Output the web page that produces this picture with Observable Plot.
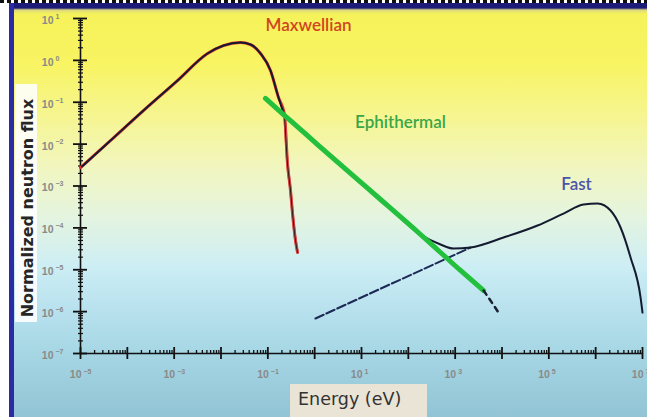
<!DOCTYPE html>
<html>
<head>
<meta charset="utf-8">
<script src="https://cdn.jsdelivr.net/npm/d3@7"></script>
<script src="https://cdn.jsdelivr.net/npm/@observablehq/plot@0.6"></script>
<style>
  body { margin: 0; background: #fff; }
  #wrap { position: relative; width: 647px; height: 417px; overflow: hidden; background: #fff; }
  #bg { position: absolute; left: 14px; top: 3px; right: 0; bottom: 0;
        background: linear-gradient(to bottom, #1c1c78 0px, #1c1c78 5px, #dcd87e 7px, #f6f25a 11px, #f8f462 60px, #f6f58e 110px, #f1f6c0 165px, #e4f4e0 215px, #cdeef4 262px, #bbe3ef 300px, #a6d6e4 350px, #90c3d4 417px); }
  #dash { position: absolute; left: 0; top: 0; width: 647px; height: 3px;
          background: repeating-linear-gradient(to right, #111 0 4px, #fff 4px 7px); }
  #lstrip { position: absolute; left: 9px; top: 3px; width: 5px; bottom: 0; background: #2b2ba4; }
  #ybox { position: absolute; left: 15px; top: 84px; width: 22px; height: 238px; background: rgba(255,255,255,0.88); }
  #ylab { position: absolute; left: 27px; top: 208px; transform: translate(-50%, -50%) rotate(-90deg);
          white-space: nowrap; font: bold 16px "DejaVu Sans", sans-serif; color: #262626; }
  #xbox { position: absolute; left: 290px; top: 384px; width: 137px; height: 40px; background: #e9e4d6; }
  #xlab { position: absolute; left: 298px; top: 389px; white-space: nowrap;
          font: 17.5px "DejaVu Sans", sans-serif; color: #333; }
  svg.chart { position: absolute; left: 0; top: 0; }
</style>
</head>
<body>
<div id="wrap">
  <div id="bg"></div>
  <div id="dash"></div>
  <div id="lstrip"></div>
  <div id="ybox"></div>
  <div id="xbox"></div>
</div>
<script>
// ---- data (energy in eV, normalized flux) ----
const thermalE    = [1.0e-5, 4.38e-5, 2.21e-4, 1.18e-3, 5.15e-3, 1.13e-2, 2.61e-2, 4.27e-2, 6.98e-2, 0.114, 0.169, 0.227, 0.263, 0.305, 0.337, 0.390, 0.431];
const thermalFlux = [2.75e-3, 1.22e-2, 6.35e-2, 0.33, 1.46, 2.26, 2.67, 2.39, 1.46, 0.573, 0.130, 0.0509, 3.44e-3, 7.8e-4, 2.2e-4, 5.0e-5, 2.58e-5];

const totalE    = [1.08e-5, 4.38e-5, 2.21e-4, 1.18e-3, 5.15e-3, 1.13e-2, 2.61e-2, 4.27e-2, 6.98e-2, 0.114, 0.169, 0.227, 0.45, 1.15, 5.83, 25.5, 182, 487, 923, 2130, 1.08e4, 5.74e4, 2.06e5, 5.51e5, 1.10e6, 2.08e6, 3.40e6, 5.56e6, 9.10e6, 1.0e7];
const totalFlux = [2.92e-3, 1.22e-2, 6.35e-2, 0.33, 1.46, 2.26, 2.67, 2.39, 1.46, 0.573, 0.130, 0.0509, 0.0249, 9.79e-3, 1.99e-3, 4.76e-4, 6.95e-5, 4.01e-5, 3.21e-5, 3.40e-5, 5.89e-5, 1.14e-4, 2.20e-4, 3.61e-4, 3.82e-4, 2.60e-4, 1.02e-4, 1.96e-5, 2.17e-6, 9.5e-7];

const epiE    = [0.0891, 0.216, 0.45, 1.15, 5.83, 25.5, 182, 487, 1300, 4040];
const epiFlux = [0.123, 0.0509, 0.0249, 9.79e-3, 1.99e-3, 4.76e-4, 6.95e-5, 2.58e-5, 9.6e-6, 3.19e-6];

const epiTailE    = [4040, 5150, 8430];
const epiTailFlux = [3.19e-6, 2.17e-6, 9.5e-7];

const fastAsymE    = [1.04, 2130];
const fastAsymFlux = [6.85e-7, 3.40e-5];

const labelNames = ["Maxwellian", "Ephithermal", "Fast"];
const labelE     = [0.74, 68, 3.9e5];
const labelFlux  = [6.8, 0.0328, 1.09e-3];

const xExponents      = [-5, -4, -3, -2, -1, 0, 1, 2, 3, 4, 5, 6, 7];
const xLabelExponents = [-5, -3, -1, 1, 3, 5, 7];
const yExponents      = [-7, -6, -5, -4, -3, -2, -1, 0, 1];

// ---- build tables ----
const pts = (E, F) => E.map((e, i) => ({E: e, F: F[i]}));
const thermal = pts(thermalE, thermalFlux);
const total = pts(totalE, totalFlux);
const epi = pts(epiE, epiFlux);
const epiTail = pts(epiTailE, epiTailFlux);
const fastAsym = pts(fastAsymE, fastAsymFlux);
const labels = labelNames.map((n, i) => ({name: n, E: labelE[i], F: labelFlux[i]}));

const xMajor = xExponents.map(e => 10 ** e);
const xLab = xLabelExponents.map(e => 10 ** e);
const yMajor = yExponents.map(e => 10 ** e);
const minorOf = exps => exps.slice(0, -1).flatMap(e => d3.range(2, 10).map(m => m * 10 ** e));
const xMinor = minorOf(xExponents);
const yMinor = minorOf(yExponents);
const expText = d => String(Math.round(Math.log10(d))).replace("-", "\u2212");

const W = 647, H = 417, mL = 80, mR = 5, mT = 18, mB = 64;
const iw = W - mL - mR, ih = H - mT - mB;
const labelFont = "Lato, 'Open Sans', sans-serif";
const tickFont = "'Liberation Sans', Arial, sans-serif";
const tickGray = "#8a8a8a";

const chart = Plot.plot({
  width: W, height: H,
  marginLeft: mL, marginRight: mR, marginTop: mT, marginBottom: mB,
  x: {type: "log", domain: [1e-5, 1e7], axis: null},
  y: {type: "log", domain: [1e-7, 10], axis: null},
  style: {background: "transparent"},
  marks: [
    // axis lines
    Plot.ruleX([1e-5], {stroke: "#111", strokeWidth: 1.6}),
    Plot.ruleY([1e-7], {stroke: "#111", strokeWidth: 1.6}),
    // ticks
    Plot.tickX(xMajor, {x: d => d, insetTop: ih - 6, insetBottom: -6, stroke: "#111", strokeWidth: 1.8}),
    Plot.tickX(xMinor, {x: d => d, insetTop: ih - 3, insetBottom: 0, stroke: "#111", strokeWidth: 1.3}),
    Plot.tickY(yMajor, {y: d => d, insetLeft: -7, insetRight: iw - 7, stroke: "#111", strokeWidth: 1.8}),
    Plot.tickY(yMinor, {y: d => d, insetLeft: -2, insetRight: iw - 3, stroke: "#111", strokeWidth: 1.2}),
    // tick labels: "10" with raised exponent
    Plot.text(xLab, {x: d => d, frameAnchor: "bottom", text: () => "10", textAnchor: "end", dx: 1, dy: 24, fontSize: 10.5, fontWeight: "bold", fill: tickGray, fontFamily: tickFont}),
    Plot.text(xLab, {x: d => d, frameAnchor: "bottom", text: expText, textAnchor: "start", dx: 3, dy: 20, fontSize: 7, fontWeight: "bold", fill: tickGray, fontFamily: tickFont}),
    Plot.text(yMajor, {y: d => d, frameAnchor: "left", text: () => "10", textAnchor: "end", dx: -27, dy: 2, fontSize: 10.5, fontWeight: "bold", fill: tickGray, fontFamily: tickFont}),
    Plot.text(yMajor, {y: d => d, frameAnchor: "left", text: expText, textAnchor: "start", dx: -25, dy: -2, fontSize: 7, fontWeight: "bold", fill: tickGray, fontFamily: tickFont}),
    // fast asymptote (dashed)
    Plot.line(fastAsym, {x: "E", y: "F", stroke: "#1c2a55", strokeWidth: 2, strokeDasharray: "9,3"}),
    // Maxwellian (red under black)
    Plot.line(thermal, {x: "E", y: "F", stroke: "#e0302a", strokeWidth: 3, curve: "monotone-x"}),
    Plot.line(thermal.slice(11), {x: "E", y: "F", stroke: "#d85050", strokeWidth: 2.4, curve: "monotone-x"}),
    Plot.line(thermal.slice(11), {x: "E", y: "F", stroke: "#3a1a1a", strokeWidth: 1.1, curve: "monotone-x"}),
    // total spectrum (black)
    Plot.line(total, {x: "E", y: "F", stroke: "#141a30", strokeWidth: 2, curve: "monotone-x"}),
    // epithermal (green)
    Plot.line(epi, {x: "E", y: "F", stroke: "#22c03c", strokeWidth: 5, strokeLinecap: "round", curve: "monotone-x"}),
    Plot.line(epiTail, {x: "E", y: "F", stroke: "#1a2030", strokeWidth: 2.5, strokeDasharray: "5,5"}),
    // labels
    Plot.text(labels.slice(0, 1), {x: "E", y: "F", text: "name", fill: "#d0461e", fontSize: 17, fontWeight: 600, fontFamily: labelFont}),
    Plot.text(labels.slice(1, 2), {x: "E", y: "F", text: "name", fill: "#3aa648", fontSize: 17, fontWeight: 600, fontFamily: labelFont}),
    Plot.text(labels.slice(2, 3), {x: "E", y: "F", text: "name", fill: "#4b55a8", fontSize: 17, fontWeight: 600, fontFamily: labelFont})
  ]
});
chart.classList.add("chart");
const wrap = document.getElementById("wrap");
wrap.appendChild(chart);
const yl = document.createElement("div"); yl.id = "ylab"; yl.textContent = "Normalized neutron flux"; wrap.appendChild(yl);
const xl = document.createElement("div"); xl.id = "xlab"; xl.textContent = "Energy (eV)"; wrap.appendChild(xl);
</script>
</body>
</html>
